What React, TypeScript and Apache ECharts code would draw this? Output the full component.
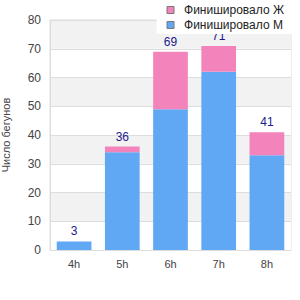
import React, { useEffect, useRef } from "react";
import * as echarts from "echarts";

const categories = ["4h", "5h", "6h", "7h", "8h"];
const finishedM = [3, 34, 49, 62, 33];
const finishedF = [0, 2, 20, 9, 8];
const yTicks = [0, 10, 20, 30, 40, 50, 60, 70, 80];

export default function App() {
  const ref = useRef<HTMLDivElement>(null);
  useEffect(() => {
    const chart = echarts.init(ref.current!, null, { renderer: "svg" });
    const totals = categories.map((_, i) => finishedM[i] + finishedF[i]);
    chart.setOption({
      animation: false,
      textStyle: { fontFamily: "Liberation Sans" },
      grid: {
        left: 50,
        right: 9,
        top: 20,
        bottom: 50,
        show: true,
        borderColor: "#dddddd",
        borderWidth: 1,
        backgroundColor: "transparent",
        outerBoundsMode: "none",
        containLabel: false,
      },
      legend: {
        orient: "vertical",
        right: 0,
        top: 0,
        backgroundColor: "#ffffff",
        padding: [3, 16, 2, 10],
        itemGap: 1,
        itemWidth: 7,
        itemHeight: 7,
        icon: "rect",
        z: 10,
        textStyle: {
          fontSize: 12,
          color: "#222222",
          fontFamily: "Liberation Sans",
          padding: [0, 0, 0, 5],
          lineHeight: 14,
        },
        data: [
          { name: "Финишировало Ж", itemStyle: { borderColor: "#777", borderWidth: 1 } },
          { name: "Финишировало М", itemStyle: { borderColor: "#777", borderWidth: 1 } },
        ],
      },
      xAxis: {
        type: "category",
        data: categories,
        axisLine: { show: true, lineStyle: { color: "#dddddd" } },
        axisTick: { show: false },
        axisLabel: { color: "#444444", fontSize: 11, margin: 8 },
      },
      yAxis: {
        type: "value",
        min: 0,
        max: 80,
        interval: 10,
        name: "Число бегунов",
        nameLocation: "middle",
        nameGap: 39,
        nameTextStyle: { color: "#444444", fontSize: 11 },
        axisLine: { show: true, lineStyle: { color: "#dddddd" } },
        axisTick: { show: false },
        axisLabel: {
          color: "#444444",
          fontSize: 12,
          margin: 9,
          formatter: (v: number) => (yTicks.includes(v) ? String(v) : ""),
        },
        splitLine: { show: true, lineStyle: { color: "#dddddd" } },
        splitArea: { show: true, areaStyle: { color: ["#ffffff", "#f2f2f2"] } },
      },
      series: [
        {
          name: "Финишировало М",
          type: "bar",
          stack: "total",
          barWidth: "72%",
          data: finishedM,
          itemStyle: { color: "#60a8f4" },
        },
        {
          name: "Финишировало Ж",
          type: "bar",
          stack: "total",
          barWidth: "72%",
          data: finishedF,
          itemStyle: { color: "#f283bb" },
          label: {
            show: true,
            position: "top",
            distance: 4,
            color: "#1a1a8c",
            fontSize: 12,
            formatter: (p: any) => String(totals[p.dataIndex]),
          },
        },
      ],
    });
    return () => chart.dispose();
  }, []);
  return <div ref={ref} style={{ width: 300, height: 300, position: "absolute", left: 0, top: 0 }} />;
}
